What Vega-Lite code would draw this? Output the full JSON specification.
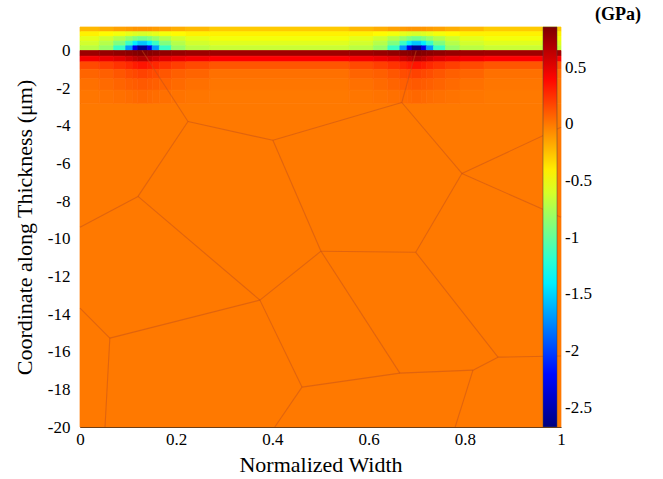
{
  "$schema": "https://vega.github.io/schema/vega-lite/v6.json",
  "width": 481,
  "height": 400,
  "autosize": {"type": "none"},
  "padding": {"left": 80, "top": 27, "right": 102, "bottom": 52},
  "background": "white",
  "title": {"text": "(GPa)", "anchor": "end", "frame": "group", "dx": 80, "offset": 3, "font": "Liberation Serif", "fontSize": 18, "fontWeight": "bold", "color": "black"},
  "config": {
    "view": {"stroke": null},
    "axis": {"ticks": false, "grid": false, "domainColor": "#222", "labelFont": "Liberation Serif", "labelFontSize": 17, "labelColor": "#000", "labelOverlap": false, "labelFlush": false, "titleFont": "Liberation Serif", "titleFontSize": 22, "titleFontWeight": "normal", "titleColor": "#000"},
    "legend": {"labelFont": "Liberation Serif", "labelFontSize": 17, "labelColor": "#000", "labelOverlap": false}
  },
  "datasets": {
    "cells": [
      {"x0":0,"x1":0.04,"y0":1,"y1":1.25,"v":-0.22},{"x0":0.04,"x1":0.07,"y0":1,"y1":1.25,"v":-0.18},{"x0":0.07,"x1":0.095,"y0":1,"y1":1.25,"v":-0.14},{"x0":0.095,"x1":0.11,"y0":1,"y1":1.25,"v":-0.12},{"x0":0.11,"x1":0.12,"y0":1,"y1":1.25,"v":-0.1},{"x0":0.12,"x1":0.14,"y0":1,"y1":1.25,"v":-0.1},{"x0":0.14,"x1":0.15,"y0":1,"y1":1.25,"v":-0.1},{"x0":0.15,"x1":0.165,"y0":1,"y1":1.25,"v":-0.12},{"x0":0.165,"x1":0.19,"y0":1,"y1":1.25,"v":-0.14},{"x0":0.19,"x1":0.22,"y0":1,"y1":1.25,"v":-0.18},{"x0":0.22,"x1":0.27,"y0":1,"y1":1.25,"v":-0.22},{"x0":0.27,"x1":0.56,"y0":1,"y1":1.25,"v":-0.28},
      {"x0":0.56,"x1":0.61,"y0":1,"y1":1.25,"v":-0.22},{"x0":0.61,"x1":0.64,"y0":1,"y1":1.25,"v":-0.18},{"x0":0.64,"x1":0.665,"y0":1,"y1":1.25,"v":-0.14},{"x0":0.665,"x1":0.68,"y0":1,"y1":1.25,"v":-0.12},{"x0":0.68,"x1":0.69,"y0":1,"y1":1.25,"v":-0.1},{"x0":0.69,"x1":0.71,"y0":1,"y1":1.25,"v":-0.1},{"x0":0.71,"x1":0.72,"y0":1,"y1":1.25,"v":-0.1},{"x0":0.72,"x1":0.735,"y0":1,"y1":1.25,"v":-0.12},{"x0":0.735,"x1":0.76,"y0":1,"y1":1.25,"v":-0.14},{"x0":0.76,"x1":0.79,"y0":1,"y1":1.25,"v":-0.18},{"x0":0.79,"x1":0.84,"y0":1,"y1":1.25,"v":-0.22},{"x0":0.84,"x1":1,"y0":1,"y1":1.25,"v":-0.28},

      {"x0":0,"x1":0.04,"y0":0.75,"y1":1,"v":-0.42},{"x0":0.04,"x1":0.07,"y0":0.75,"y1":1,"v":-0.45},{"x0":0.07,"x1":0.095,"y0":0.75,"y1":1,"v":-0.5},{"x0":0.095,"x1":0.11,"y0":0.75,"y1":1,"v":-0.55},{"x0":0.11,"x1":0.12,"y0":0.75,"y1":1,"v":-0.58},{"x0":0.12,"x1":0.14,"y0":0.75,"y1":1,"v":-0.6},{"x0":0.14,"x1":0.15,"y0":0.75,"y1":1,"v":-0.58},{"x0":0.15,"x1":0.165,"y0":0.75,"y1":1,"v":-0.55},{"x0":0.165,"x1":0.19,"y0":0.75,"y1":1,"v":-0.5},{"x0":0.19,"x1":0.22,"y0":0.75,"y1":1,"v":-0.45},{"x0":0.22,"x1":0.27,"y0":0.75,"y1":1,"v":-0.42},{"x0":0.27,"x1":0.56,"y0":0.75,"y1":1,"v":-0.42},
      {"x0":0.56,"x1":0.61,"y0":0.75,"y1":1,"v":-0.42},{"x0":0.61,"x1":0.64,"y0":0.75,"y1":1,"v":-0.45},{"x0":0.64,"x1":0.665,"y0":0.75,"y1":1,"v":-0.5},{"x0":0.665,"x1":0.68,"y0":0.75,"y1":1,"v":-0.55},{"x0":0.68,"x1":0.69,"y0":0.75,"y1":1,"v":-0.58},{"x0":0.69,"x1":0.71,"y0":0.75,"y1":1,"v":-0.6},{"x0":0.71,"x1":0.72,"y0":0.75,"y1":1,"v":-0.58},{"x0":0.72,"x1":0.735,"y0":0.75,"y1":1,"v":-0.55},{"x0":0.735,"x1":0.76,"y0":0.75,"y1":1,"v":-0.5},{"x0":0.76,"x1":0.79,"y0":0.75,"y1":1,"v":-0.45},{"x0":0.79,"x1":0.84,"y0":0.75,"y1":1,"v":-0.42},{"x0":0.84,"x1":1,"y0":0.75,"y1":1,"v":-0.42},

      {"x0":0,"x1":0.04,"y0":0.5,"y1":0.75,"v":-0.55},{"x0":0.04,"x1":0.07,"y0":0.5,"y1":0.75,"v":-0.62},{"x0":0.07,"x1":0.095,"y0":0.5,"y1":0.75,"v":-0.72},{"x0":0.095,"x1":0.11,"y0":0.5,"y1":0.75,"v":-0.82},{"x0":0.11,"x1":0.12,"y0":0.5,"y1":0.75,"v":-0.9},{"x0":0.12,"x1":0.14,"y0":0.5,"y1":0.75,"v":-0.95},{"x0":0.14,"x1":0.15,"y0":0.5,"y1":0.75,"v":-0.9},{"x0":0.15,"x1":0.165,"y0":0.5,"y1":0.75,"v":-0.82},{"x0":0.165,"x1":0.19,"y0":0.5,"y1":0.75,"v":-0.72},{"x0":0.19,"x1":0.22,"y0":0.5,"y1":0.75,"v":-0.62},{"x0":0.22,"x1":0.27,"y0":0.5,"y1":0.75,"v":-0.55},{"x0":0.27,"x1":0.56,"y0":0.5,"y1":0.75,"v":-0.5},
      {"x0":0.56,"x1":0.61,"y0":0.5,"y1":0.75,"v":-0.55},{"x0":0.61,"x1":0.64,"y0":0.5,"y1":0.75,"v":-0.62},{"x0":0.64,"x1":0.665,"y0":0.5,"y1":0.75,"v":-0.72},{"x0":0.665,"x1":0.68,"y0":0.5,"y1":0.75,"v":-0.82},{"x0":0.68,"x1":0.69,"y0":0.5,"y1":0.75,"v":-0.9},{"x0":0.69,"x1":0.71,"y0":0.5,"y1":0.75,"v":-0.95},{"x0":0.71,"x1":0.72,"y0":0.5,"y1":0.75,"v":-0.9},{"x0":0.72,"x1":0.735,"y0":0.5,"y1":0.75,"v":-0.82},{"x0":0.735,"x1":0.76,"y0":0.5,"y1":0.75,"v":-0.72},{"x0":0.76,"x1":0.79,"y0":0.5,"y1":0.75,"v":-0.62},{"x0":0.79,"x1":0.84,"y0":0.5,"y1":0.75,"v":-0.55},{"x0":0.84,"x1":1,"y0":0.5,"y1":0.75,"v":-0.5},

      {"x0":0,"x1":0.04,"y0":0.25,"y1":0.5,"v":-0.62},{"x0":0.04,"x1":0.07,"y0":0.25,"y1":0.5,"v":-0.72},{"x0":0.07,"x1":0.095,"y0":0.25,"y1":0.5,"v":-0.9},{"x0":0.095,"x1":0.11,"y0":0.25,"y1":0.5,"v":-1.15},{"x0":0.11,"x1":0.12,"y0":0.25,"y1":0.5,"v":-1.4},{"x0":0.12,"x1":0.14,"y0":0.25,"y1":0.5,"v":-1.55},{"x0":0.14,"x1":0.15,"y0":0.25,"y1":0.5,"v":-1.4},{"x0":0.15,"x1":0.165,"y0":0.25,"y1":0.5,"v":-1.15},{"x0":0.165,"x1":0.19,"y0":0.25,"y1":0.5,"v":-0.9},{"x0":0.19,"x1":0.22,"y0":0.25,"y1":0.5,"v":-0.72},{"x0":0.22,"x1":0.27,"y0":0.25,"y1":0.5,"v":-0.62},{"x0":0.27,"x1":0.56,"y0":0.25,"y1":0.5,"v":-0.57},
      {"x0":0.56,"x1":0.61,"y0":0.25,"y1":0.5,"v":-0.62},{"x0":0.61,"x1":0.64,"y0":0.25,"y1":0.5,"v":-0.72},{"x0":0.64,"x1":0.665,"y0":0.25,"y1":0.5,"v":-0.9},{"x0":0.665,"x1":0.68,"y0":0.25,"y1":0.5,"v":-1.15},{"x0":0.68,"x1":0.69,"y0":0.25,"y1":0.5,"v":-1.4},{"x0":0.69,"x1":0.71,"y0":0.25,"y1":0.5,"v":-1.55},{"x0":0.71,"x1":0.72,"y0":0.25,"y1":0.5,"v":-1.4},{"x0":0.72,"x1":0.735,"y0":0.25,"y1":0.5,"v":-1.15},{"x0":0.735,"x1":0.76,"y0":0.25,"y1":0.5,"v":-0.9},{"x0":0.76,"x1":0.79,"y0":0.25,"y1":0.5,"v":-0.72},{"x0":0.79,"x1":0.84,"y0":0.25,"y1":0.5,"v":-0.62},{"x0":0.84,"x1":1,"y0":0.25,"y1":0.5,"v":-0.57},

      {"x0":0,"x1":0.04,"y0":0,"y1":0.25,"v":-0.7},{"x0":0.04,"x1":0.07,"y0":0,"y1":0.25,"v":-0.82},{"x0":0.07,"x1":0.095,"y0":0,"y1":0.25,"v":-1.15},{"x0":0.095,"x1":0.11,"y0":0,"y1":0.25,"v":-1.7},{"x0":0.11,"x1":0.12,"y0":0,"y1":0.25,"v":-2.3},{"x0":0.12,"x1":0.14,"y0":0,"y1":0.25,"v":-2.6},{"x0":0.14,"x1":0.15,"y0":0,"y1":0.25,"v":-2.3},{"x0":0.15,"x1":0.165,"y0":0,"y1":0.25,"v":-1.7},{"x0":0.165,"x1":0.19,"y0":0,"y1":0.25,"v":-1.15},{"x0":0.19,"x1":0.22,"y0":0,"y1":0.25,"v":-0.82},{"x0":0.22,"x1":0.27,"y0":0,"y1":0.25,"v":-0.7},{"x0":0.27,"x1":0.56,"y0":0,"y1":0.25,"v":-0.65},
      {"x0":0.56,"x1":0.61,"y0":0,"y1":0.25,"v":-0.7},{"x0":0.61,"x1":0.64,"y0":0,"y1":0.25,"v":-0.82},{"x0":0.64,"x1":0.665,"y0":0,"y1":0.25,"v":-1.15},{"x0":0.665,"x1":0.68,"y0":0,"y1":0.25,"v":-1.7},{"x0":0.68,"x1":0.69,"y0":0,"y1":0.25,"v":-2.3},{"x0":0.69,"x1":0.71,"y0":0,"y1":0.25,"v":-2.6},{"x0":0.71,"x1":0.72,"y0":0,"y1":0.25,"v":-2.3},{"x0":0.72,"x1":0.735,"y0":0,"y1":0.25,"v":-1.7},{"x0":0.735,"x1":0.76,"y0":0,"y1":0.25,"v":-1.15},{"x0":0.76,"x1":0.79,"y0":0,"y1":0.25,"v":-0.82},{"x0":0.79,"x1":0.84,"y0":0,"y1":0.25,"v":-0.7},{"x0":0.84,"x1":1,"y0":0,"y1":0.25,"v":-0.65},

      {"x0":0,"x1":1,"y0":-20,"y1":-2.8,"v":0},

      {"x0":0,"x1":0.04,"y0":-0.3,"y1":0,"v":0.76},{"x0":0.04,"x1":0.07,"y0":-0.3,"y1":0,"v":0.78},{"x0":0.07,"x1":0.095,"y0":-0.3,"y1":0,"v":0.8},{"x0":0.095,"x1":0.11,"y0":-0.3,"y1":0,"v":0.82},{"x0":0.11,"x1":0.12,"y0":-0.3,"y1":0,"v":0.84},{"x0":0.12,"x1":0.14,"y0":-0.3,"y1":0,"v":0.86},{"x0":0.14,"x1":0.15,"y0":-0.3,"y1":0,"v":0.84},{"x0":0.15,"x1":0.165,"y0":-0.3,"y1":0,"v":0.82},{"x0":0.165,"x1":0.19,"y0":-0.3,"y1":0,"v":0.8},{"x0":0.19,"x1":0.22,"y0":-0.3,"y1":0,"v":0.78},{"x0":0.22,"x1":0.27,"y0":-0.3,"y1":0,"v":0.76},{"x0":0.27,"x1":0.56,"y0":-0.3,"y1":0,"v":0.75},
      {"x0":0.56,"x1":0.61,"y0":-0.3,"y1":0,"v":0.76},{"x0":0.61,"x1":0.64,"y0":-0.3,"y1":0,"v":0.78},{"x0":0.64,"x1":0.665,"y0":-0.3,"y1":0,"v":0.8},{"x0":0.665,"x1":0.68,"y0":-0.3,"y1":0,"v":0.82},{"x0":0.68,"x1":0.69,"y0":-0.3,"y1":0,"v":0.84},{"x0":0.69,"x1":0.71,"y0":-0.3,"y1":0,"v":0.86},{"x0":0.71,"x1":0.72,"y0":-0.3,"y1":0,"v":0.84},{"x0":0.72,"x1":0.735,"y0":-0.3,"y1":0,"v":0.82},{"x0":0.735,"x1":0.76,"y0":-0.3,"y1":0,"v":0.8},{"x0":0.76,"x1":0.79,"y0":-0.3,"y1":0,"v":0.78},{"x0":0.79,"x1":0.84,"y0":-0.3,"y1":0,"v":0.76},{"x0":0.84,"x1":1,"y0":-0.3,"y1":0,"v":0.75},

      {"x0":0,"x1":0.04,"y0":-0.6,"y1":-0.3,"v":0.45},{"x0":0.04,"x1":0.07,"y0":-0.6,"y1":-0.3,"v":0.48},{"x0":0.07,"x1":0.095,"y0":-0.6,"y1":-0.3,"v":0.52},{"x0":0.095,"x1":0.11,"y0":-0.6,"y1":-0.3,"v":0.58},{"x0":0.11,"x1":0.12,"y0":-0.6,"y1":-0.3,"v":0.64},{"x0":0.12,"x1":0.14,"y0":-0.6,"y1":-0.3,"v":0.68},{"x0":0.14,"x1":0.15,"y0":-0.6,"y1":-0.3,"v":0.64},{"x0":0.15,"x1":0.165,"y0":-0.6,"y1":-0.3,"v":0.58},{"x0":0.165,"x1":0.19,"y0":-0.6,"y1":-0.3,"v":0.52},{"x0":0.19,"x1":0.22,"y0":-0.6,"y1":-0.3,"v":0.48},{"x0":0.22,"x1":0.27,"y0":-0.6,"y1":-0.3,"v":0.45},{"x0":0.27,"x1":0.56,"y0":-0.6,"y1":-0.3,"v":0.42},
      {"x0":0.56,"x1":0.61,"y0":-0.6,"y1":-0.3,"v":0.45},{"x0":0.61,"x1":0.64,"y0":-0.6,"y1":-0.3,"v":0.48},{"x0":0.64,"x1":0.665,"y0":-0.6,"y1":-0.3,"v":0.52},{"x0":0.665,"x1":0.68,"y0":-0.6,"y1":-0.3,"v":0.58},{"x0":0.68,"x1":0.69,"y0":-0.6,"y1":-0.3,"v":0.64},{"x0":0.69,"x1":0.71,"y0":-0.6,"y1":-0.3,"v":0.68},{"x0":0.71,"x1":0.72,"y0":-0.6,"y1":-0.3,"v":0.64},{"x0":0.72,"x1":0.735,"y0":-0.6,"y1":-0.3,"v":0.58},{"x0":0.735,"x1":0.76,"y0":-0.6,"y1":-0.3,"v":0.52},{"x0":0.76,"x1":0.79,"y0":-0.6,"y1":-0.3,"v":0.48},{"x0":0.79,"x1":0.84,"y0":-0.6,"y1":-0.3,"v":0.45},{"x0":0.84,"x1":1,"y0":-0.6,"y1":-0.3,"v":0.42},

      {"x0":0,"x1":0.04,"y0":-1,"y1":-0.6,"v":0.16},{"x0":0.04,"x1":0.07,"y0":-1,"y1":-0.6,"v":0.2},{"x0":0.07,"x1":0.095,"y0":-1,"y1":-0.6,"v":0.24},{"x0":0.095,"x1":0.11,"y0":-1,"y1":-0.6,"v":0.28},{"x0":0.11,"x1":0.12,"y0":-1,"y1":-0.6,"v":0.32},{"x0":0.12,"x1":0.14,"y0":-1,"y1":-0.6,"v":0.35},{"x0":0.14,"x1":0.15,"y0":-1,"y1":-0.6,"v":0.32},{"x0":0.15,"x1":0.165,"y0":-1,"y1":-0.6,"v":0.28},{"x0":0.165,"x1":0.19,"y0":-1,"y1":-0.6,"v":0.24},{"x0":0.19,"x1":0.22,"y0":-1,"y1":-0.6,"v":0.2},{"x0":0.22,"x1":0.27,"y0":-1,"y1":-0.6,"v":0.16},{"x0":0.27,"x1":0.56,"y0":-1,"y1":-0.6,"v":0.12},
      {"x0":0.56,"x1":0.61,"y0":-1,"y1":-0.6,"v":0.16},{"x0":0.61,"x1":0.64,"y0":-1,"y1":-0.6,"v":0.2},{"x0":0.64,"x1":0.665,"y0":-1,"y1":-0.6,"v":0.24},{"x0":0.665,"x1":0.68,"y0":-1,"y1":-0.6,"v":0.28},{"x0":0.68,"x1":0.69,"y0":-1,"y1":-0.6,"v":0.32},{"x0":0.69,"x1":0.71,"y0":-1,"y1":-0.6,"v":0.35},{"x0":0.71,"x1":0.72,"y0":-1,"y1":-0.6,"v":0.32},{"x0":0.72,"x1":0.735,"y0":-1,"y1":-0.6,"v":0.28},{"x0":0.735,"x1":0.76,"y0":-1,"y1":-0.6,"v":0.24},{"x0":0.76,"x1":0.79,"y0":-1,"y1":-0.6,"v":0.2},{"x0":0.79,"x1":0.84,"y0":-1,"y1":-0.6,"v":0.16},{"x0":0.84,"x1":1,"y0":-1,"y1":-0.6,"v":0.12},

      {"x0":0,"x1":0.04,"y0":-1.5,"y1":-1,"v":0.07},{"x0":0.04,"x1":0.07,"y0":-1.5,"y1":-1,"v":0.09},{"x0":0.07,"x1":0.095,"y0":-1.5,"y1":-1,"v":0.12},{"x0":0.095,"x1":0.11,"y0":-1.5,"y1":-1,"v":0.15},{"x0":0.11,"x1":0.12,"y0":-1.5,"y1":-1,"v":0.17},{"x0":0.12,"x1":0.14,"y0":-1.5,"y1":-1,"v":0.19},{"x0":0.14,"x1":0.15,"y0":-1.5,"y1":-1,"v":0.17},{"x0":0.15,"x1":0.165,"y0":-1.5,"y1":-1,"v":0.15},{"x0":0.165,"x1":0.19,"y0":-1.5,"y1":-1,"v":0.12},{"x0":0.19,"x1":0.22,"y0":-1.5,"y1":-1,"v":0.09},{"x0":0.22,"x1":0.27,"y0":-1.5,"y1":-1,"v":0.07},{"x0":0.27,"x1":0.56,"y0":-1.5,"y1":-1,"v":0.03},
      {"x0":0.56,"x1":0.61,"y0":-1.5,"y1":-1,"v":0.07},{"x0":0.61,"x1":0.64,"y0":-1.5,"y1":-1,"v":0.09},{"x0":0.64,"x1":0.665,"y0":-1.5,"y1":-1,"v":0.12},{"x0":0.665,"x1":0.68,"y0":-1.5,"y1":-1,"v":0.15},{"x0":0.68,"x1":0.69,"y0":-1.5,"y1":-1,"v":0.17},{"x0":0.69,"x1":0.71,"y0":-1.5,"y1":-1,"v":0.19},{"x0":0.71,"x1":0.72,"y0":-1.5,"y1":-1,"v":0.17},{"x0":0.72,"x1":0.735,"y0":-1.5,"y1":-1,"v":0.15},{"x0":0.735,"x1":0.76,"y0":-1.5,"y1":-1,"v":0.12},{"x0":0.76,"x1":0.79,"y0":-1.5,"y1":-1,"v":0.09},{"x0":0.79,"x1":0.84,"y0":-1.5,"y1":-1,"v":0.07},{"x0":0.84,"x1":1,"y0":-1.5,"y1":-1,"v":0.03},

      {"x0":0,"x1":0.04,"y0":-2.1,"y1":-1.5,"v":0.03},{"x0":0.04,"x1":0.07,"y0":-2.1,"y1":-1.5,"v":0.05},{"x0":0.07,"x1":0.095,"y0":-2.1,"y1":-1.5,"v":0.07},{"x0":0.095,"x1":0.11,"y0":-2.1,"y1":-1.5,"v":0.09},{"x0":0.11,"x1":0.12,"y0":-2.1,"y1":-1.5,"v":0.1},{"x0":0.12,"x1":0.14,"y0":-2.1,"y1":-1.5,"v":0.11},{"x0":0.14,"x1":0.15,"y0":-2.1,"y1":-1.5,"v":0.1},{"x0":0.15,"x1":0.165,"y0":-2.1,"y1":-1.5,"v":0.09},{"x0":0.165,"x1":0.19,"y0":-2.1,"y1":-1.5,"v":0.07},{"x0":0.19,"x1":0.22,"y0":-2.1,"y1":-1.5,"v":0.05},{"x0":0.22,"x1":0.27,"y0":-2.1,"y1":-1.5,"v":0.03},{"x0":0.27,"x1":0.56,"y0":-2.1,"y1":-1.5,"v":0.01},
      {"x0":0.56,"x1":0.61,"y0":-2.1,"y1":-1.5,"v":0.03},{"x0":0.61,"x1":0.64,"y0":-2.1,"y1":-1.5,"v":0.05},{"x0":0.64,"x1":0.665,"y0":-2.1,"y1":-1.5,"v":0.07},{"x0":0.665,"x1":0.68,"y0":-2.1,"y1":-1.5,"v":0.09},{"x0":0.68,"x1":0.69,"y0":-2.1,"y1":-1.5,"v":0.1},{"x0":0.69,"x1":0.71,"y0":-2.1,"y1":-1.5,"v":0.11},{"x0":0.71,"x1":0.72,"y0":-2.1,"y1":-1.5,"v":0.1},{"x0":0.72,"x1":0.735,"y0":-2.1,"y1":-1.5,"v":0.09},{"x0":0.735,"x1":0.76,"y0":-2.1,"y1":-1.5,"v":0.07},{"x0":0.76,"x1":0.79,"y0":-2.1,"y1":-1.5,"v":0.05},{"x0":0.79,"x1":0.84,"y0":-2.1,"y1":-1.5,"v":0.03},{"x0":0.84,"x1":1,"y0":-2.1,"y1":-1.5,"v":0.01},

      {"x0":0,"x1":0.04,"y0":-2.8,"y1":-2.1,"v":0.01},{"x0":0.04,"x1":0.07,"y0":-2.8,"y1":-2.1,"v":0.02},{"x0":0.07,"x1":0.095,"y0":-2.8,"y1":-2.1,"v":0.03},{"x0":0.095,"x1":0.11,"y0":-2.8,"y1":-2.1,"v":0.04},{"x0":0.11,"x1":0.12,"y0":-2.8,"y1":-2.1,"v":0.05},{"x0":0.12,"x1":0.14,"y0":-2.8,"y1":-2.1,"v":0.06},{"x0":0.14,"x1":0.15,"y0":-2.8,"y1":-2.1,"v":0.05},{"x0":0.15,"x1":0.165,"y0":-2.8,"y1":-2.1,"v":0.04},{"x0":0.165,"x1":0.19,"y0":-2.8,"y1":-2.1,"v":0.03},{"x0":0.19,"x1":0.22,"y0":-2.8,"y1":-2.1,"v":0.02},{"x0":0.22,"x1":0.27,"y0":-2.8,"y1":-2.1,"v":0.01},{"x0":0.27,"x1":0.56,"y0":-2.8,"y1":-2.1,"v":0},
      {"x0":0.56,"x1":0.61,"y0":-2.8,"y1":-2.1,"v":0.01},{"x0":0.61,"x1":0.64,"y0":-2.8,"y1":-2.1,"v":0.02},{"x0":0.64,"x1":0.665,"y0":-2.8,"y1":-2.1,"v":0.03},{"x0":0.665,"x1":0.68,"y0":-2.8,"y1":-2.1,"v":0.04},{"x0":0.68,"x1":0.69,"y0":-2.8,"y1":-2.1,"v":0.05},{"x0":0.69,"x1":0.71,"y0":-2.8,"y1":-2.1,"v":0.06},{"x0":0.71,"x1":0.72,"y0":-2.8,"y1":-2.1,"v":0.05},{"x0":0.72,"x1":0.735,"y0":-2.8,"y1":-2.1,"v":0.04},{"x0":0.735,"x1":0.76,"y0":-2.8,"y1":-2.1,"v":0.03},{"x0":0.76,"x1":0.79,"y0":-2.8,"y1":-2.1,"v":0.02},{"x0":0.79,"x1":0.84,"y0":-2.8,"y1":-2.1,"v":0.01},{"x0":0.84,"x1":1,"y0":-2.8,"y1":-2.1,"v":0}
    ],
    "bounds": [
      {"s":1,"o":0,"x0":0.129,"y0":0},{"s":1,"o":1,"x0":0.2245,"y0":-3.77},
      {"s":2,"o":0,"x0":0.2245,"y0":-3.77},{"s":2,"o":1,"x0":0.401,"y0":-4.77},
      {"s":3,"o":0,"x0":0.2245,"y0":-3.77},{"s":3,"o":1,"x0":0.1206,"y0":-7.75},
      {"s":4,"o":0,"x0":0.1206,"y0":-7.75},{"s":4,"o":1,"x0":0,"y0":-9.39},
      {"s":5,"o":0,"x0":0.1206,"y0":-7.75},{"s":5,"o":1,"x0":0.374,"y0":-13.26},
      {"s":6,"o":0,"x0":0.401,"y0":-4.77},{"s":6,"o":1,"x0":0.501,"y0":-10.66},
      {"s":7,"o":0,"x0":0.401,"y0":-4.77},{"s":7,"o":1,"x0":0.669,"y0":-2.76},
      {"s":8,"o":0,"x0":0.699,"y0":0},{"s":8,"o":1,"x0":0.669,"y0":-2.76},
      {"s":9,"o":0,"x0":0.669,"y0":-2.76},{"s":9,"o":1,"x0":0.794,"y0":-6.53},
      {"s":10,"o":0,"x0":0.794,"y0":-6.53},{"s":10,"o":1,"x0":1,"y0":-4.08},
      {"s":11,"o":0,"x0":0.794,"y0":-6.53},{"s":11,"o":1,"x0":1,"y0":-8.86},
      {"s":12,"o":0,"x0":0.794,"y0":-6.53},{"s":12,"o":1,"x0":0.698,"y0":-10.72},
      {"s":13,"o":0,"x0":0.501,"y0":-10.66},{"s":13,"o":1,"x0":0.698,"y0":-10.72},
      {"s":14,"o":0,"x0":0.374,"y0":-13.26},{"s":14,"o":1,"x0":0.501,"y0":-10.66},
      {"s":15,"o":0,"x0":0.374,"y0":-13.26},{"s":15,"o":1,"x0":0.062,"y0":-15.28},
      {"s":16,"o":0,"x0":0.062,"y0":-15.28},{"s":16,"o":1,"x0":0,"y0":-13.69},
      {"s":17,"o":0,"x0":0.062,"y0":-15.28},{"s":17,"o":1,"x0":0.052,"y0":-20},
      {"s":18,"o":0,"x0":0.374,"y0":-13.26},{"s":18,"o":1,"x0":0.4615,"y0":-17.88},
      {"s":19,"o":0,"x0":0.4615,"y0":-17.88},{"s":19,"o":1,"x0":0.665,"y0":-17.14},
      {"s":20,"o":0,"x0":0.4615,"y0":-17.88},{"s":20,"o":1,"x0":0.405,"y0":-20},
      {"s":21,"o":0,"x0":0.501,"y0":-10.66},{"s":21,"o":1,"x0":0.665,"y0":-17.14},
      {"s":22,"o":0,"x0":0.698,"y0":-10.72},{"s":22,"o":1,"x0":0.869,"y0":-16.29},
      {"s":23,"o":0,"x0":0.869,"y0":-16.29},{"s":23,"o":1,"x0":1,"y0":-16.23},
      {"s":24,"o":0,"x0":0.869,"y0":-16.29},{"s":24,"o":1,"x0":0.817,"y0":-16.98},
      {"s":25,"o":0,"x0":0.665,"y0":-17.14},{"s":25,"o":1,"x0":0.817,"y0":-16.98},
      {"s":26,"o":0,"x0":0.817,"y0":-16.98},{"s":26,"o":1,"x0":0.78,"y0":-20}
    ]
  },
  "encoding": {
    "x": {"field": "x0", "type": "quantitative", "scale": {"domain": [0, 1], "nice": false, "zero": false},
      "axis": {"title": "Normalized Width", "values": [0, 0.2, 0.4, 0.6, 0.8, 1], "labelExpr": "'' + datum.value", "labelPadding": 4, "titlePadding": 7, "labelOverlap": false, "labelFlush": false, "labelFont": "Liberation Serif", "labelFontSize": 17, "titleFont": "Liberation Serif", "titleFontSize": 22}},
    "y": {"field": "y0", "type": "quantitative", "scale": {"domain": [-20, 1.25], "nice": false, "zero": false},
      "axis": {"title": "Coordinate along Thickness (μm)", "values": [-20, -18, -16, -14, -12, -10, -8, -6, -4, -2, 0], "labelExpr": "'' + datum.value", "labelPadding": 10, "titlePadding": 11, "labelOverlap": false, "labelFont": "Liberation Serif", "labelFontSize": 17, "titleFont": "Liberation Serif", "titleFontSize": 22}}
  },
  "layer": [
    {
      "data": {"name": "cells"},
      "mark": {"type": "rect", "strokeWidth": 0.7},
      "encoding": {
        "x2": {"field": "x1"},
        "y2": {"field": "y1"},
        "color": {"field": "v", "type": "quantitative",
          "scale": {"domain": [-2.67, 0.86], "range": ["#00007f", "#0000ff", "#007fff", "#00ffff", "#7fff7f", "#ffff00", "#ff7f00", "#ff0000", "#7f0000"], "interpolate": "rgb"},
          "legend": {"type": "gradient", "orient": "none", "legendX": 463, "legendY": 0, "title": null, "direction": "vertical", "gradientLength": 400, "gradientThickness": 14, "gradientStrokeColor": "#444", "gradientStrokeWidth": 0.5, "values": [0.5, 0, -0.5, -1, -1.5, -2, -2.5], "labelExpr": "'' + datum.value", "labelOffset": 8, "labelFont": "Liberation Serif", "labelFontSize": 17}},
        "stroke": {"value": {"expr": "scale('color', datum.v)"}}
      }
    },
    {
      "data": {"name": "bounds"},
      "mark": {"type": "line", "color": "#c4501a", "strokeWidth": 1.1, "opacity": 0.5},
      "encoding": {
        "detail": {"field": "s", "type": "nominal"},
        "order": {"field": "o", "type": "quantitative"}
      }
    }
  ]
}
